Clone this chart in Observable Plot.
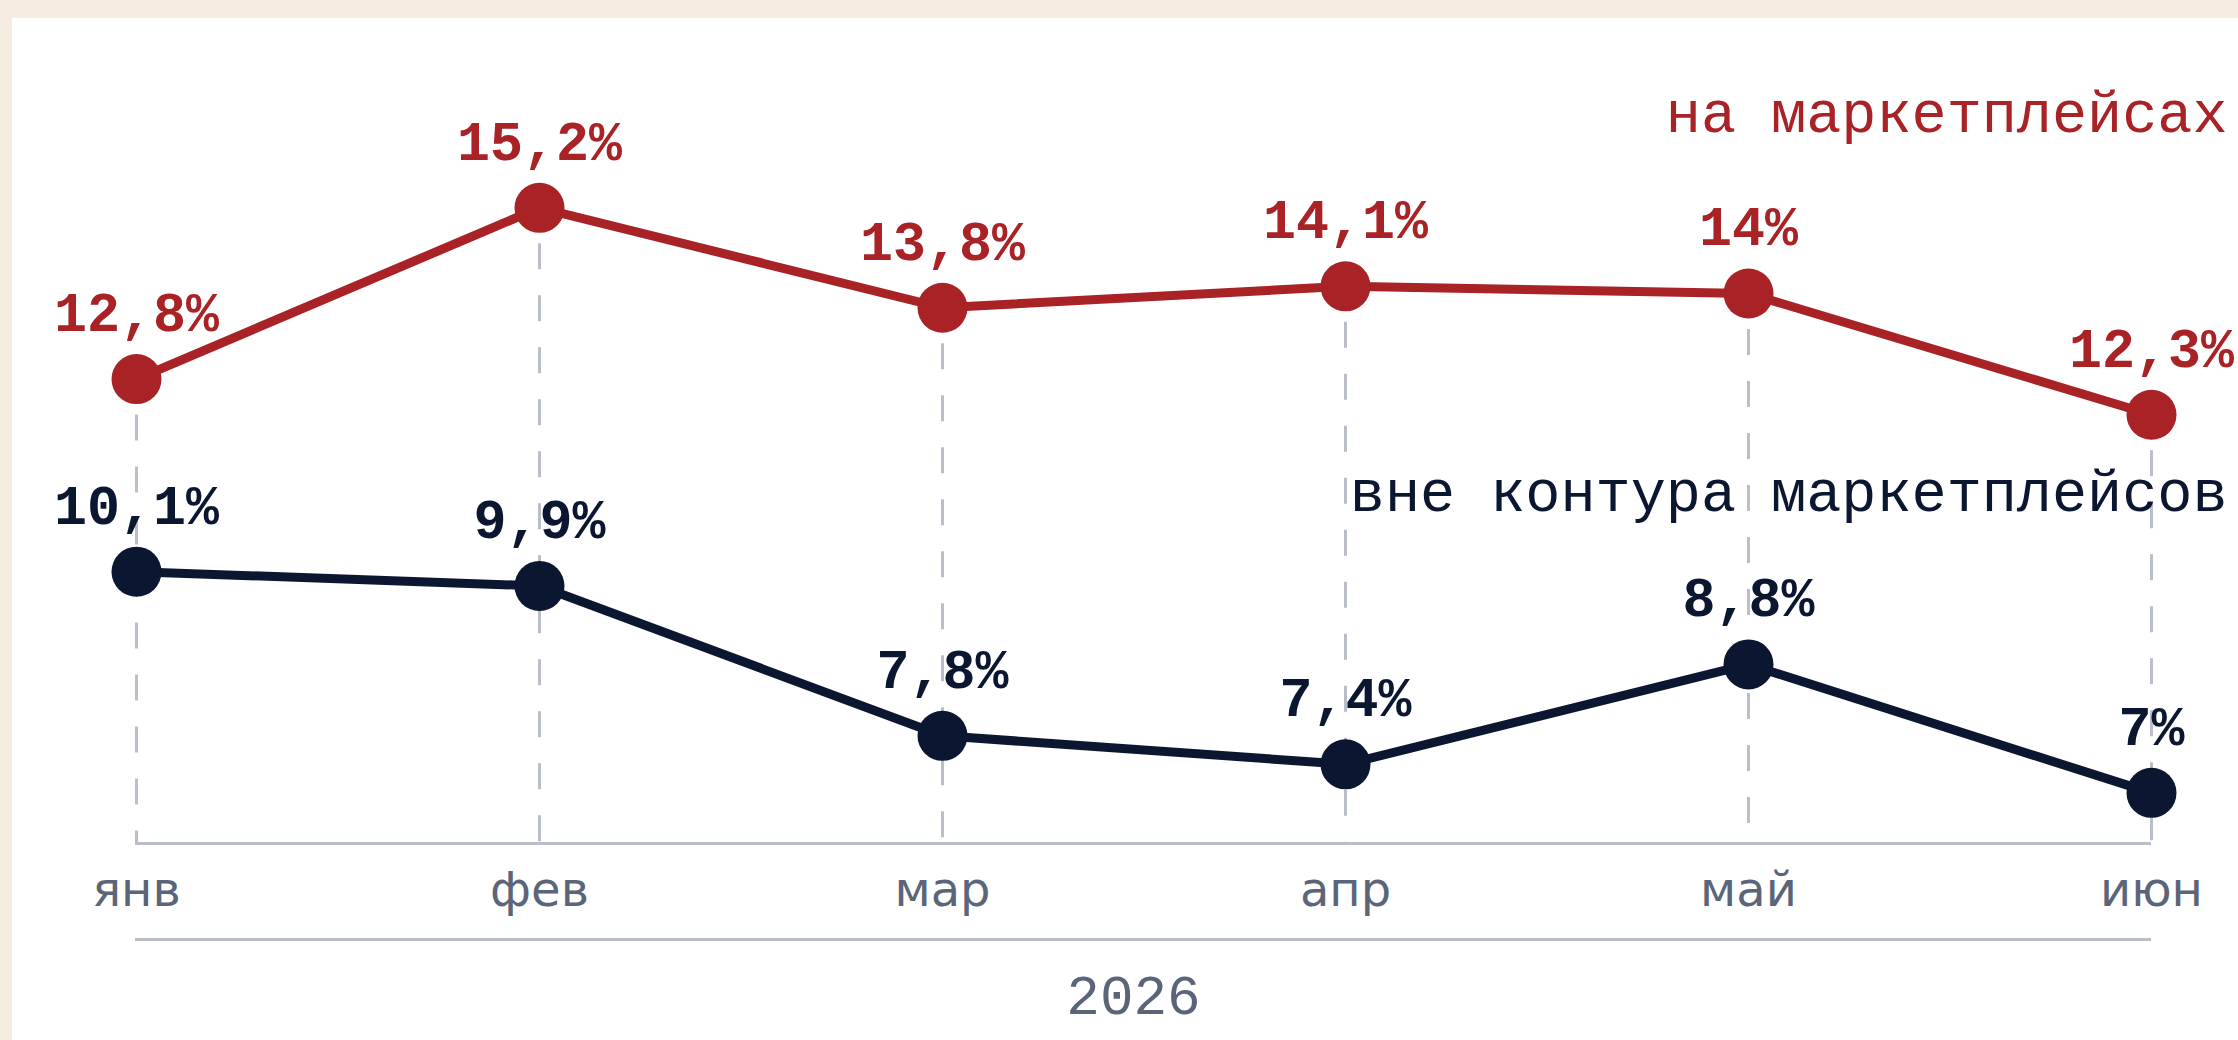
<!DOCTYPE html>
<html>
<head>
<meta charset="utf-8">
<script src="https://cdn.jsdelivr.net/npm/d3@7"></script>
<script src="https://cdn.jsdelivr.net/npm/@observablehq/plot@0.6"></script>
<style>
  html, body { margin: 0; padding: 0; background: #f6ede2; }
  #wrap { position: relative; width: 2238px; height: 1040px; overflow: hidden; }
  #panel { position: absolute; left: 12px; top: 18px; right: 0; bottom: 0; background: #ffffff; }
  #chart { position: absolute; left: 0; top: 0; }
</style>
</head>
<body>
<div id="wrap">
  <div id="panel"></div>
  <div id="chart"></div>
</div>
<script>
// ---- data ----
const months = ["янв", "фев", "мар", "апр", "май", "июн"];
const marketplace = [12.8, 15.2, 13.8, 14.1, 14.0, 12.3];
const outside = [10.1, 9.9, 7.8, 7.4, 8.8, 7.0];
const yearLabel = "2026";
const seriesNames = ["на маркетплейсах", "вне контура маркетплейсов"];

// ---- styles ----
const RED = "#a82226";
const NAVY = "#0b1731";
const GRID = "#b9bec9";
const TICK = "#5b6579";
const MONO = "'Liberation Mono', 'DejaVu Sans Mono', monospace";

const yMin = 6.29, yMax = 16;

const rows = months.map((m, i) => ({month: m, red: marketplace[i], navy: outside[i]}));
const redSeries = months.map((m, i) => ({month: m, value: marketplace[i]}));
const navySeries = months.map((m, i) => ({month: m, value: outside[i]}));
const fmt = v => (Number.isInteger(v) ? String(v) : v.toFixed(1).replace(".", ",")) + "%";

const chart = Plot.plot({
  width: 2238,
  height: 1040,
  marginLeft: 135,
  marginRight: 87,
  marginTop: 150.3,
  marginBottom: 197,
  style: {background: "transparent", overflow: "visible"},
  x: {type: "point", domain: months, padding: 0, label: null},
  y: {domain: [yMin, yMax], axis: null},
  marks: [
    // dashed vertical guides from the upper point down to the axis
    Plot.ruleX(rows, {x: "month", y1: "red", y2: yMin, stroke: GRID, strokeWidth: 3,
      strokeDasharray: "26,26", insetTop: 36}),
    // axis baseline
    Plot.ruleY([yMin], {stroke: GRID, strokeWidth: 3}),
    // lower year rule
    Plot.ruleY([yMin], {stroke: GRID, strokeWidth: 3, dy: 96}),
    Plot.axisX({tickSize: 0, tickPadding: 28, fontSize: 48, fill: TICK,
      fontFamily: "'DejaVu Sans', sans-serif", label: null}),
    Plot.text([yearLabel], {text: d => d, frameAnchor: "bottom", lineAnchor: "bottom", dx: -10, dy: 170,
      fontSize: 56, fill: TICK, fontFamily: MONO}),
    // lines
    Plot.line(redSeries, {x: "month", y: "value", stroke: RED, strokeWidth: 9}),
    Plot.line(navySeries, {x: "month", y: "value", stroke: NAVY, strokeWidth: 9}),
    Plot.dot(redSeries, {x: "month", y: "value", r: 25, fill: RED}),
    Plot.dot(navySeries, {x: "month", y: "value", r: 25, fill: NAVY}),
    // value labels
    Plot.text(redSeries, {x: "month", y: "value", text: d => fmt(d.value), lineAnchor: "bottom", dy: -48,
      fontSize: 55, fontWeight: "bold", fill: RED, fontFamily: MONO}),
    Plot.text(navySeries, {x: "month", y: "value", text: d => fmt(d.value), lineAnchor: "bottom", dy: -48,
      fontSize: 55, fontWeight: "bold", fill: NAVY, fontFamily: MONO}),
    // series labels
    Plot.text([seriesNames[0]], {text: d => d, frameAnchor: "top-right", textAnchor: "end", lineAnchor: "bottom",
      dx: 76, dy: -19, fontSize: 58.5, fill: RED, fontFamily: MONO}),
    Plot.text([seriesNames[1]], {text: d => d, frameAnchor: "top-right", textAnchor: "end", lineAnchor: "bottom",
      dx: 76, dy: 360, fontSize: 58.5, fill: NAVY, fontFamily: MONO})
  ]
});
document.getElementById("chart").appendChild(chart);
</script>
</body>
</html>
